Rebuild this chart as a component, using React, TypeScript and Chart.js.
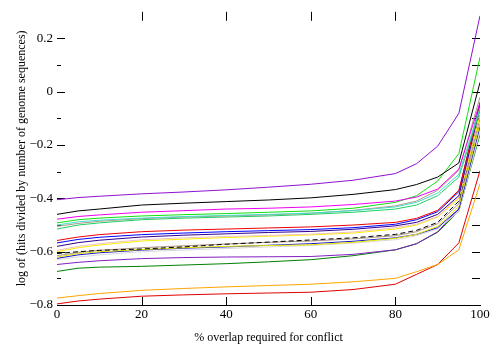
import React, { useEffect, useRef } from "react";
import { Chart, registerables } from "chart.js";

Chart.register(...registerables);

// x positions (% overlap required for conflict)
const xValues = [0, 5, 10, 20, 30, 40, 50, 60, 70, 80, 85, 90, 95, 100];

// series values: log of (hits / number of genome sequences)
const violetA = [-0.405, -0.397, -0.392, -0.383, -0.376, -0.368, -0.358, -0.347, -0.332, -0.307, -0.27, -0.204, -0.081, 0.285];
const blackA = [-0.46, -0.447, -0.44, -0.425, -0.418, -0.412, -0.406, -0.398, -0.385, -0.367, -0.348, -0.32, -0.267, 0.035];
const magenta = [-0.478, -0.468, -0.462, -0.452, -0.446, -0.44, -0.437, -0.432, -0.423, -0.41, -0.395, -0.365, -0.29, -0.04];
const greenBright = [-0.492, -0.48, -0.474, -0.466, -0.461, -0.457, -0.452, -0.447, -0.437, -0.415, -0.39, -0.335, -0.232, 0.13];
const turquoise = [-0.5, -0.488, -0.482, -0.474, -0.468, -0.464, -0.46, -0.455, -0.446, -0.432, -0.415, -0.38, -0.31, -0.06];
const tanA = [-0.505, -0.494, -0.486, -0.476, -0.47, -0.466, -0.462, -0.456, -0.445, -0.428, -0.41, -0.37, -0.295, -0.02];
const springGreen = [-0.515, -0.5, -0.492, -0.48, -0.474, -0.47, -0.466, -0.46, -0.452, -0.44, -0.425, -0.39, -0.32, -0.07];
const redA = [-0.558, -0.545, -0.536, -0.525, -0.519, -0.515, -0.511, -0.507, -0.5, -0.49, -0.475, -0.445, -0.37, -0.05];
const blueA = [-0.567, -0.554, -0.546, -0.536, -0.53, -0.525, -0.521, -0.517, -0.51, -0.497, -0.48, -0.45, -0.375, -0.04];
const indigo = [-0.58, -0.566, -0.557, -0.545, -0.538, -0.533, -0.528, -0.524, -0.516, -0.503, -0.49, -0.46, -0.39, -0.06];
const pinkLight = [-0.595, -0.58, -0.57, -0.555, -0.548, -0.543, -0.539, -0.534, -0.526, -0.51, -0.497, -0.468, -0.395, -0.07];
const yellowA = [-0.6, -0.585, -0.575, -0.56, -0.553, -0.547, -0.542, -0.537, -0.53, -0.515, -0.5, -0.47, -0.4, -0.09];
const blackB = [-0.607, -0.6, -0.595, -0.59, -0.582, -0.572, -0.564, -0.556, -0.548, -0.535, -0.52, -0.49, -0.41, -0.08];
const tanB = [-0.615, -0.603, -0.595, -0.585, -0.578, -0.571, -0.565, -0.56, -0.552, -0.54, -0.525, -0.495, -0.42, -0.1];
const yellowB = [-0.62, -0.607, -0.6, -0.592, -0.585, -0.58, -0.577, -0.574, -0.565, -0.55, -0.535, -0.505, -0.43, -0.12];
const blueB = [-0.625, -0.612, -0.604, -0.594, -0.587, -0.582, -0.576, -0.57, -0.561, -0.548, -0.535, -0.51, -0.44, -0.13];
const greyLight = [-0.63, -0.62, -0.612, -0.6, -0.594, -0.588, -0.582, -0.577, -0.568, -0.555, -0.54, -0.515, -0.45, -0.15];
const violetB = [-0.648, -0.64, -0.634, -0.626, -0.622, -0.62, -0.619, -0.618, -0.61, -0.593, -0.57, -0.525, -0.44, -0.12];
const greenDark = [-0.674, -0.662, -0.658, -0.655, -0.65, -0.645, -0.638, -0.63, -0.615, -0.593, -0.57, -0.527, -0.448, -0.16];
const orange = [-0.774, -0.765, -0.757, -0.745, -0.738, -0.732, -0.727, -0.722, -0.713, -0.7, -0.675, -0.648, -0.593, -0.345];
const redB = [-0.796, -0.785, -0.778, -0.767, -0.762, -0.758, -0.755, -0.752, -0.742, -0.722, -0.685, -0.648, -0.567, -0.296];

const xTickValues = [0, 20, 40, 60, 80, 100];
const xInnerTicks = [20, 40, 60, 80];
const yTickValues = [-0.8, -0.6, -0.4, -0.2, 0, 0.2];
const yAllTicks = [-0.7, -0.6, -0.5, -0.4, -0.3, -0.2, -0.1, 0, 0.1, 0.2];

const xTitle = "% overlap required for conflict";
const yTitle = "log of (hits divided by number of genome sequences)";

const seriesList = [
  { label: "s1", values: violetA, color: "#9010d0", dash: [] as number[] },
  { label: "s2", values: blackA, color: "#000000", dash: [] },
  { label: "s3", values: magenta, color: "#f000f0", dash: [] },
  { label: "s4", values: greenBright, color: "#10e010", dash: [] },
  { label: "s5", values: turquoise, color: "#40e0c8", dash: [] },
  { label: "s6", values: tanA, color: "#b09888", dash: [] },
  { label: "s7", values: springGreen, color: "#20d060", dash: [] },
  { label: "s8", values: redA, color: "#ee0000", dash: [] },
  { label: "s9", values: blueA, color: "#0000ff", dash: [] },
  { label: "s10", values: indigo, color: "#300090", dash: [] },
  { label: "s11", values: pinkLight, color: "#f0c0c0", dash: [] },
  { label: "s12", values: yellowA, color: "#f8f000", dash: [] },
  { label: "s13", values: blackB, color: "#000000", dash: [5, 3] },
  { label: "s14", values: tanB, color: "#a89080", dash: [] },
  { label: "s15", values: yellowB, color: "#e8e800", dash: [] },
  { label: "s16", values: blueB, color: "#1010d0", dash: [] },
  { label: "s17", values: greyLight, color: "#d8d8d8", dash: [] },
  { label: "s18", values: violetB, color: "#8020c0", dash: [] },
  { label: "s19", values: greenDark, color: "#008000", dash: [] },
  { label: "s20", values: orange, color: "#ffa500", dash: [] },
  { label: "s21", values: redB, color: "#e00000", dash: [] },
];

const fontFamily = "'Liberation Serif', 'Times New Roman', serif";

const fmtY = (v: number) => {
  if (Math.abs(v) < 1e-9) return "0";
  const s = Math.abs(v).toFixed(1);
  return v < 0 ? "\u2212" + s : s;
};

const frameTicks = {
  id: "frameTicks",
  beforeDatasetsDraw(chart: any) {
    const { ctx, chartArea, scales } = chart;
    const { left, right, top, bottom } = chartArea;
    const x = scales.x;
    const y = scales.y;
    ctx.save();
    ctx.strokeStyle = "#000";
    ctx.lineWidth = 1;
    ctx.beginPath();
    for (const v of xInnerTicks) {
      const px = Math.round(x.getPixelForValue(v)) + 0.5;
      ctx.moveTo(px, bottom);
      ctx.lineTo(px, bottom - 8);
      ctx.moveTo(px, top);
      ctx.lineTo(px, top + 9);
    }
    for (const v of yAllTicks) {
      const py = Math.round(y.getPixelForValue(v)) + 0.5;
      const major = yTickValues.some((t) => Math.abs(t - v) < 1e-6);
      ctx.moveTo(left, py);
      ctx.lineTo(left + (major ? 8 : 4), py);
      ctx.moveTo(right, py);
      ctx.lineTo(right - 8, py);
    }
    ctx.stroke();
    ctx.restore();
  },
};

export default function App() {
  const canvasRef = useRef<HTMLCanvasElement | null>(null);

  useEffect(() => {
    const canvas = canvasRef.current;
    if (!canvas) return;
    const chart = new Chart(canvas, {
      type: "line",
      data: {
        datasets: seriesList.map((s) => ({
          label: s.label,
          data: xValues.map((xv, i) => ({ x: xv, y: s.values[i] })),
          borderColor: s.color,
          backgroundColor: s.color,
          borderWidth: 1,
          borderDash: s.dash,
          pointRadius: 0,
          tension: 0,
          fill: false,
        })),
      },
      options: {
        animation: false,
        responsive: false,
        devicePixelRatio: 1,
        layout: { padding: { top: 9, right: 19, left: 0, bottom: 0 } },
        plugins: {
          legend: { display: false },
          tooltip: { enabled: false },
        },
        scales: {
          x: {
            type: "linear",
            min: 0,
            max: 100,
            afterBuildTicks: (scale: any) => {
              scale.ticks = xTickValues.map((v) => ({ value: v }));
            },
            afterFit: (scale: any) => {
              scale.height = 46;
            },
            ticks: {
              color: "#000",
              font: { family: fontFamily, size: 13 },
              padding: 2,
              maxRotation: 0,
              autoSkip: false,
              callback: (v: any) => String(v),
            },
            grid: { display: false, drawTicks: false },
            border: { display: true, color: "#000", width: 1 },
            title: {
              display: true,
              text: xTitle,
              color: "#000",
              font: { family: fontFamily, size: 12 },
              padding: { top: 0, bottom: 6 },
            },
          },
          y: {
            type: "linear",
            min: -0.8,
            max: 0.3,
            afterBuildTicks: (scale: any) => {
              scale.ticks = yTickValues.map((v) => ({ value: v }));
            },
            afterFit: (scale: any) => {
              scale.width = 57;
            },
            ticks: {
              color: "#000",
              font: { family: fontFamily, size: 13 },
              padding: 4,
              autoSkip: false,
              callback: (v: any) => fmtY(Number(v)),
            },
            grid: { display: false, drawTicks: false },
            border: { display: false },
            title: {
              display: true,
              text: yTitle,
              color: "#000",
              font: { family: fontFamily, size: 12 },
              padding: { top: 15, bottom: 0 },
            },
          },
        },
      },
      plugins: [frameTicks],
    });
    return () => chart.destroy();
  }, []);

  return (
    <div style={{ position: "absolute", left: 0, top: 0, width: 499, height: 351, background: "#fff" }}>
      <canvas ref={canvasRef} width={499} height={351} style={{ display: "block" }} />
    </div>
  );
}
